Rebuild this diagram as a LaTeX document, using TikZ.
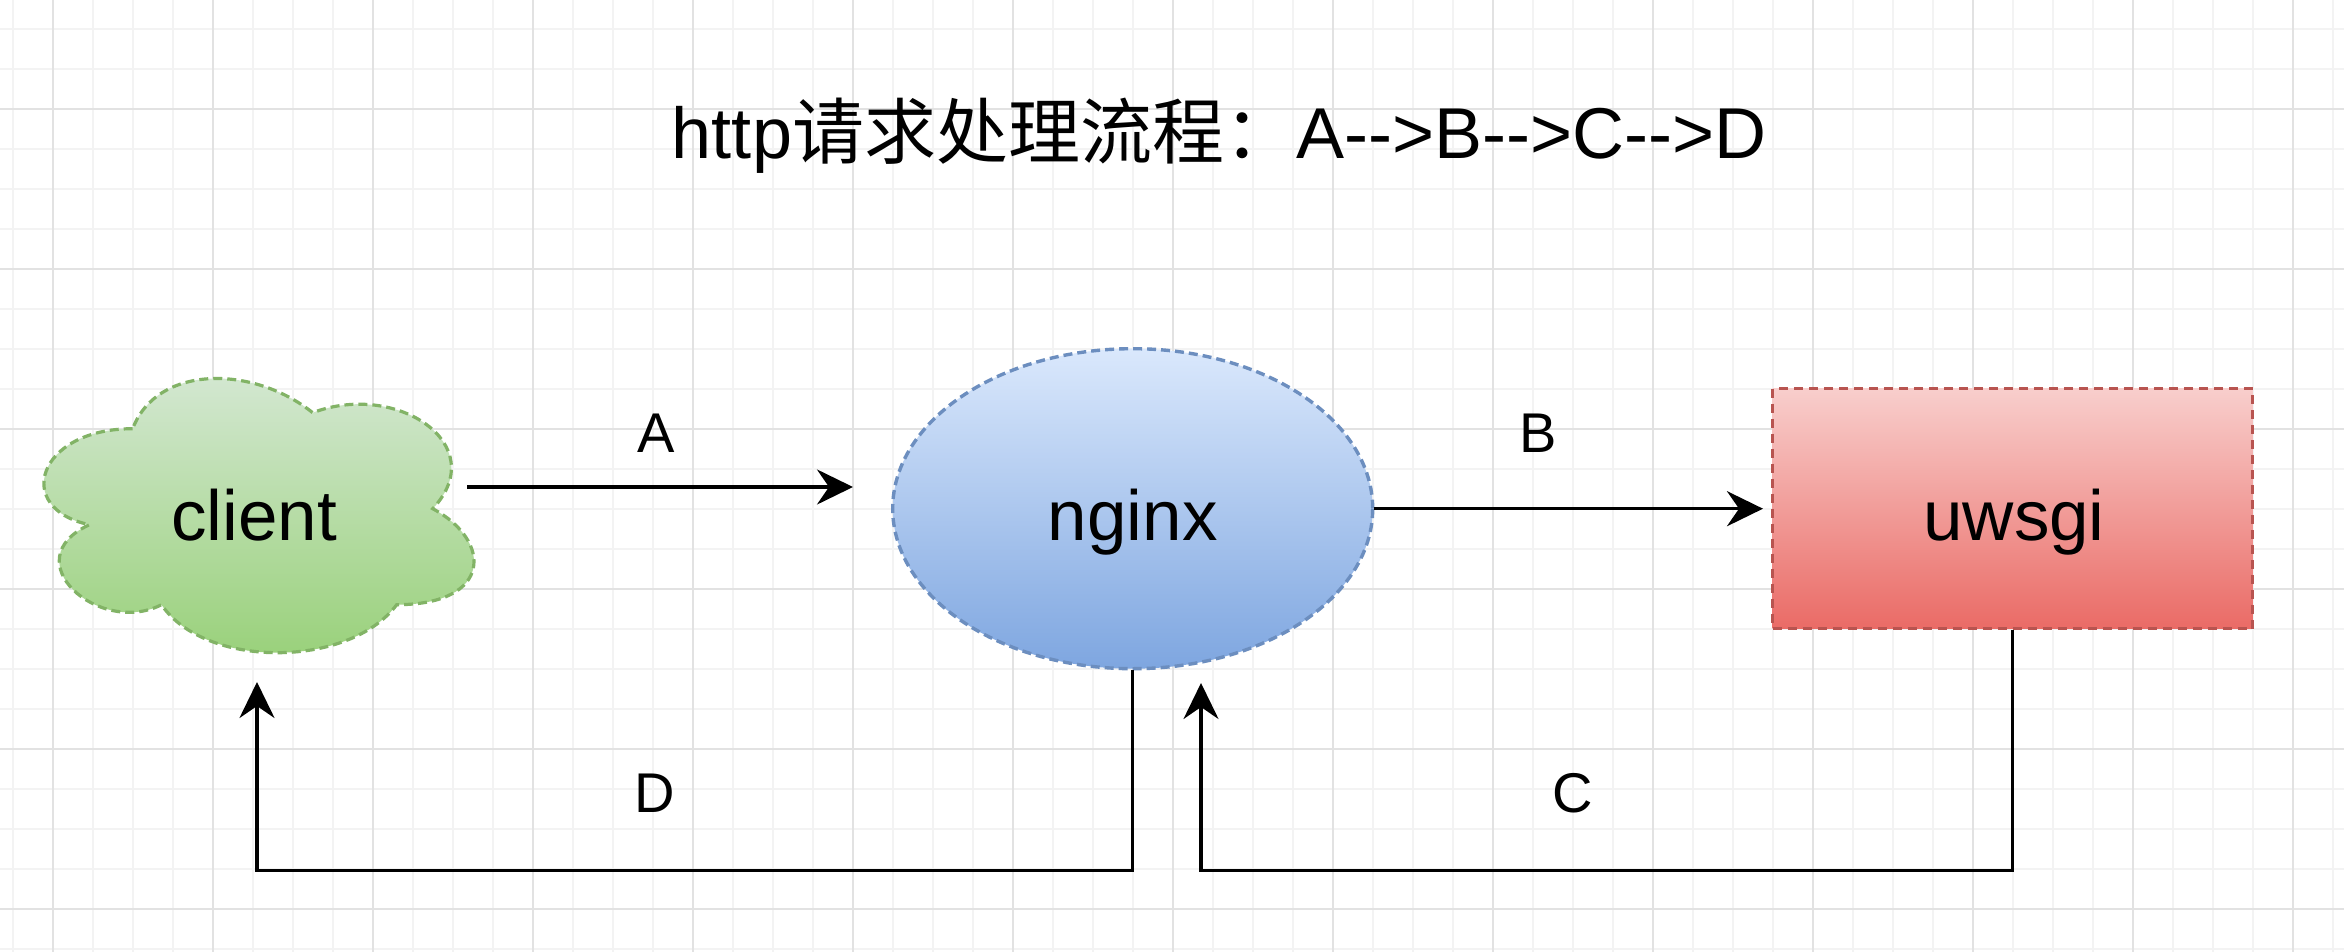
\documentclass[tikz,border=0pt]{standalone}
\usepackage{fontspec}
\setmainfont{Liberation Sans}[Ligatures=TeXOff]
\newfontfamily\cjk{Noto Sans CJK SC}
\usetikzlibrary{arrows.meta,shapes.geometric}
\definecolor{gridminor}{HTML}{F3F3F3}
\definecolor{gridmajor}{HTML}{E2E2E2}
\definecolor{cloudtop}{HTML}{D5E8D4}
\definecolor{cloudbot}{HTML}{97D077}
\definecolor{cloudline}{HTML}{82B366}
\definecolor{elltop}{HTML}{DAE8FC}
\definecolor{ellbot}{HTML}{7EA6E0}
\definecolor{ellline}{HTML}{6C8EBF}
\definecolor{recttop}{HTML}{F8CECC}
\definecolor{rectbot}{HTML}{EA6B66}
\definecolor{rectline}{HTML}{B85450}
\tikzset{
  minorline/.style={draw=gridminor, line width=1pt},
  majorline/.style={draw=gridmajor, line width=1pt},
  bigtext/.style={font=\fontsize{35.5pt}{40pt}\selectfont, anchor=base, inner sep=0pt},
  titletext/.style={font=\fontsize{36pt}{40pt}\selectfont, anchor=base, inner sep=0pt},
  lbltext/.style={font=\fontsize{28pt}{32pt}\selectfont, anchor=base, inner sep=0pt},
  conn/.style={draw=black, line width=1.75pt, -{Stealth[length=18pt,width=17.5pt,inset=6pt]}},
  nginxbox/.style={ellipse, minimum width=240pt, minimum height=160pt, inner sep=0pt,
    top color=elltop, bottom color=ellbot, draw=ellline, line width=1.7pt,
    dash pattern=on 4.5pt off 2.5pt},
  uwsgibox/.style={rectangle, minimum width=240pt, minimum height=120pt, inner sep=0pt,
    top color=recttop, bottom color=rectbot, draw=rectline, line width=1.7pt,
    dash pattern=on 4.5pt off 3pt},
}
\begin{document}
\begin{tikzpicture}[x=0.5pt,y=-0.5pt]
\useasboundingbox (0,0) rectangle (2344,952);
\fill[white] (0,0) rectangle (2344,952);
% grid
\foreach \k in {0,...,58} {
  \path[minorline] ({12.7+40*\k},0) -- ({12.7+40*\k},952);
}
\foreach \k in {0,...,23} {
  \path[minorline] (0,{28.7+40*\k}) -- (2344,{28.7+40*\k});
}
\foreach \k in {0,...,14} {
  \path[majorline] ({52.7+160*\k},0) -- ({52.7+160*\k},952);
}
\foreach \k in {0,...,5} {
  \path[majorline] (0,{108.7+160*\k}) -- (2344,{108.7+160*\k});
}
% title
\node[titletext] (title) at (1219,159) {http{\cjk 请求处理流程：}A-->B-->C-->D};
% cloud
\path[top color=cloudtop, bottom color=cloudbot]
  (132.7,428.7) .. controls (36.7,428.7) and (12.7,508.7) .. (89.5,524.7)
  .. controls (12.7,559.9) and (99.1,636.7) .. (161.5,604.7)
  .. controls (204.7,668.7) and (348.7,668.7) .. (396.7,604.7)
  .. controls (492.7,604.7) and (492.7,540.7) .. (432.7,508.7)
  .. controls (492.7,444.7) and (396.7,380.7) .. (312.7,412.7)
  .. controls (252.7,364.7) and (156.7,364.7) .. (132.7,428.7) -- cycle;
\draw[cloudline, line width=1.6pt, dash pattern=on 4.5pt off 2.5pt]
  (132.7,428.7) .. controls (36.7,428.7) and (12.7,508.7) .. (89.5,524.7)
  .. controls (12.7,559.9) and (99.1,636.7) .. (161.5,604.7)
  .. controls (204.7,668.7) and (348.7,668.7) .. (396.7,604.7)
  .. controls (492.7,604.7) and (492.7,540.7) .. (432.7,508.7)
  .. controls (492.7,444.7) and (396.7,380.7) .. (312.7,412.7)
  .. controls (252.7,364.7) and (156.7,364.7) .. (132.7,428.7) -- cycle;
\node[bigtext] (client) at (254,540) {client};
% nginx
\node[nginxbox] (nginx) at (1132.7,508.7) {};
\node[bigtext] (nginxlbl) at (1132.7,540) {nginx};
% uwsgi
\node[uwsgibox] (uwsgi) at (2012.7,508.7) {};
\node[bigtext] (uwsgilbl) at (2014,540) {uwsgi};
% free connector ends
\coordinate (aS) at (467,487);
\coordinate (aE) at (853,487);
\coordinate (cTip) at (1201,683);
\coordinate (dTip) at (257,682);
% connectors
\draw[conn] (aS) -- (aE);
\draw[conn, shorten >=4pt] (nginx.east) -- (uwsgi.west);
\draw[conn] (uwsgi.south) -- ++(0,240) -| (cTip);
\draw[conn] (nginx.south) -- ++(0,200) -| (dTip);
% labels
\node[lbltext] (la) at (656,452) {A};
\node[lbltext] (lb) at (1538,452) {B};
\node[lbltext] (lc) at (1573,812) {C};
\node[lbltext] (ld) at (655,812) {D};
\end{tikzpicture}
\end{document}
